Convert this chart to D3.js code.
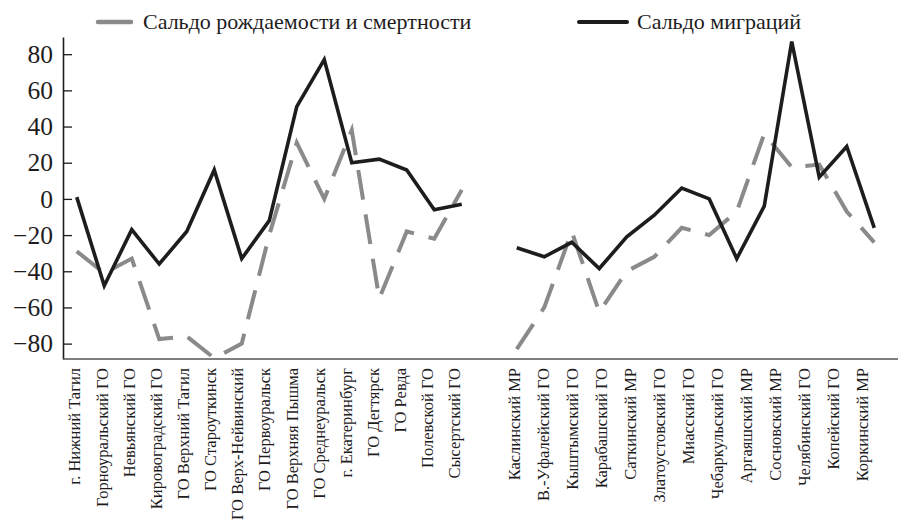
<!DOCTYPE html>
<html><head><meta charset="utf-8">
<script src="https://cdn.jsdelivr.net/npm/d3@7"></script>
<style>
body{margin:0;background:#fff;}
svg{display:block;}
</style></head>
<body><svg id="chart" width="901" height="522"></svg>
<script>
const categoriesLeft = ["г. Нижний Тагил","Горноуральский ГО","Невьянский ГО","Кировоградский ГО","ГО Верхний Тагил","ГО Староуткинск","ГО Верх-Нейвинский","ГО Первоуральск","ГО Верхняя Пышма","ГО Среднеуральск","г. Екатеринбург","ГО Дегтярск","ГО Ревда","Полевской ГО","Сысертский ГО"];
const categoriesRight = ["Каслинский МР","В.-Уфалейский ГО","Кыштымский ГО","Карабашский ГО","Саткинский МР","Златоустовский ГО","Миасский ГО","Чебаркульский ГО","Аргаяшский МР","Сосновский МР","Челябинский ГО","Копейский ГО","Коркинский МР"];
const naturalLeft    = [-29, -41, -33, -77.5, -76, -88, -80, -20, 31, 0, 38, -55, -18, -22, 5];
const migrationLeft  = [1, -48, -17, -36, -18, 16, -33, -12, 51, 77, 20, 22, 16, -6, -3];
const naturalRight   = [-83, -60, -18, -62.5, -40, -32, -16, -20, -7, 36, 17.5, 19, -7, -24];
const migrationRight = [-27, -32, -24, -38.5, -21, -9, 6, 0, -33, -4, 87, 12, 29, -16];
const yTicks = [-80, -60, -40, -20, 0, 20, 40, 60, 80];
const seriesNames = ["Сальдо рождаемости и смертности", "Сальдо миграций"];

(function () {
const FONT = "'Liberation Serif', 'Times New Roman', serif";
const svg = d3.select("#chart");
const mL = 63, mR = 898, mT = 37, mB = 359;
const black = "#1e1c1d", gray = "#8a8a8c";

// point slots: left group, one empty slot, right group
const nSlots = naturalLeft.length + 1 + naturalRight.length;
const x = d3.scaleBand().domain(d3.range(nSlots)).range([63, 888]).padding(0);
const xc = i => x(i) + x.bandwidth() / 2;
const y = d3.scaleLinear().domain([-88.5, 89.5]).range([mB, mT]);

// label scales
const xlL = d3.scalePoint().domain(categoriesLeft).range([75, 455]);
const xlR = d3.scalePoint().domain(categoriesRight).range([515, 863]);

// y axis
const yAxis = d3.axisLeft(y).tickValues(yTicks).tickSizeInner(-9).tickSizeOuter(0).tickPadding(10);
const ga = svg.append("g").attr("transform", `translate(${mL},0)`).call(yAxis);
ga.attr("font-family", null);
ga.select(".domain").attr("stroke", black).attr("stroke-width", 1.6);
ga.selectAll(".tick line").attr("stroke", black).attr("stroke-width", 1.3);
ga.selectAll(".tick text").attr("fill", black)
  .style("font-family", FONT).style("font-size", "25.5px");

// x axis line
svg.append("line").attr("x1", mL).attr("x2", mR).attr("y1", mB).attr("y2", mB)
  .attr("stroke", "#555").attr("stroke-width", 1.6);

// x labels
function labels(cats, sc) {
  svg.append("g").selectAll("text").data(cats).join("text")
    .attr("transform", d => `translate(${sc(d)},368) rotate(-90)`)
    .attr("text-anchor", "end").attr("dy", "0.33em")
    .attr("fill", black).style("font-family", FONT).style("font-size", "16.5px").text(d => d);
}
labels(categoriesLeft, xlL);
labels(categoriesRight, xlR);

const line = d3.line().x(d => xc(d.i)).y(d => y(d.v));
function series(vals, offset, color, width, dash) {
  const pts = vals.map((v, k) => ({ i: k + offset, v }));
  const p = svg.append("path").datum(pts).attr("d", line).attr("fill", "none")
    .attr("stroke", color).attr("stroke-width", width).attr("stroke-linejoin", "miter");
  if (dash) p.attr("stroke-dasharray", dash);
}
const offR = naturalLeft.length + 1;
series(naturalLeft, 0, gray, 4, "30,15");
series(naturalRight, offR, gray, 4, "30,15");
series(migrationLeft, 0, black, 3.6, null);
series(migrationRight, offR, black, 3.6, null);

// legend
const lg = svg.append("g");
lg.append("line").attr("x1", 98).attr("x2", 131).attr("y1", 22).attr("y2", 22)
  .attr("stroke", gray).attr("stroke-width", 4.5).attr("stroke-linecap", "round");
lg.append("text").attr("x", 143).attr("y", 29).attr("fill", black)
  .style("font-family", FONT).style("font-size", "22px").text(seriesNames[0]);
lg.append("line").attr("x1", 579).attr("x2", 627).attr("y1", 22).attr("y2", 22)
  .attr("stroke", black).attr("stroke-width", 4).attr("stroke-linecap", "round");
lg.append("text").attr("x", 637).attr("y", 29).attr("fill", black)
  .style("font-family", FONT).style("font-size", "22px").text(seriesNames[1]);
})();
</script>
</body></html>
